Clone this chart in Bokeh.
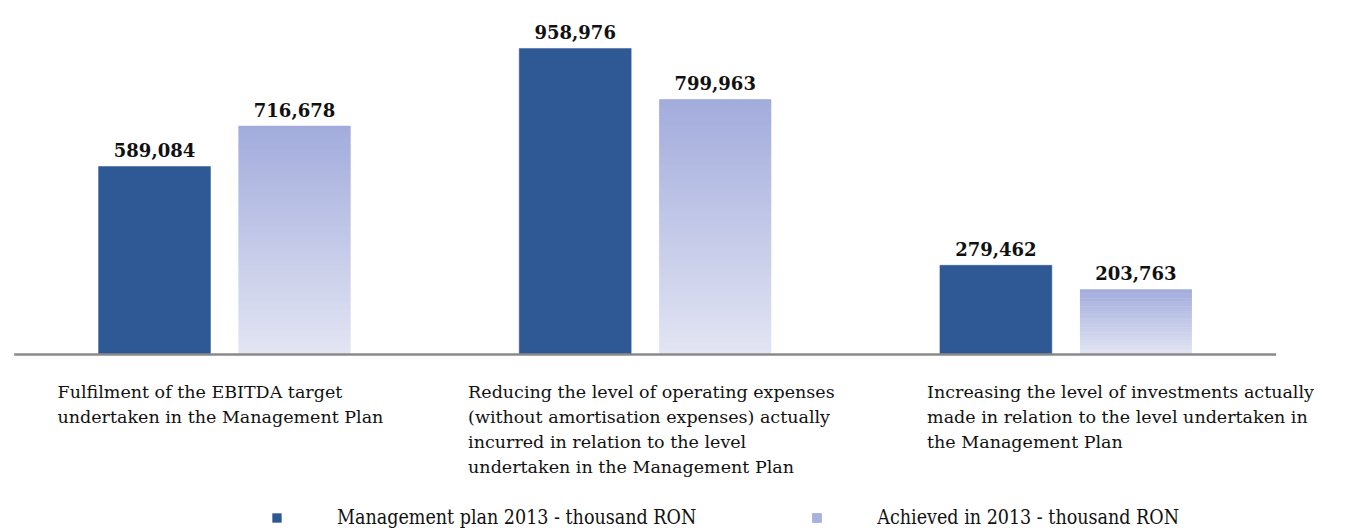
import numpy as np
from bokeh.plotting import figure
from bokeh.models import Range1d, Legend, LegendItem, ColumnDataSource
from bokeh.core.properties import value
from bokeh.embed import file_html
from bokeh.resources import INLINE

# ---------------- data ----------------
categories = [
    "Fulfilment of the EBITDA target undertaken in the Management Plan",
    "Reducing the level of operating expenses (without amortisation expenses) actually incurred in relation to the level undertaken in the Management Plan",
    "Increasing the level of investments actually made in relation to the level undertaken in the Management Plan",
]
label_lines = [
    ["Fulfilment of the EBITDA target", "undertaken in the Management Plan"],
    ["Reducing the level of operating expenses", "(without amortisation expenses) actually",
     "incurred in relation to the level", "undertaken in the Management Plan"],
    ["Increasing the level of investments actually", "made in relation to the level undertaken in",
     "the Management Plan"],
]
plan = [589084, 958976, 279462]
achieved = [716678, 799963, 203763]
series_names = ["Management plan 2013 - thousand RON", "Achieved in 2013 - thousand RON"]

# ---------------- style ----------------
DARK = "#2E5994"
GRAD_BOTTOM = np.array([0xE3, 0xE5, 0xF3])
GRAD_TOP = np.array([0xA2, 0xAC, 0xDC])
LIGHT = "#A9B2DF"
FONT = "DejaVu Serif"
BAR_W = 0.266
OFF = 0.1664
label_left = [-0.397, -0.421, -0.330]

p = figure(width=1346, height=532, output_backend="svg", toolbar_location=None,
           x_range=Range1d(-0.5325, 2.667), y_range=Range1d(-557900, 1109300),
           min_border=0, outline_line_color=None)
p.axis.visible = False
p.xgrid.visible = False
p.ygrid.visible = False
p.background_fill_color = "white"
p.border_fill_color = "white"

xs = np.arange(len(categories))

# dark bars
r_plan = p.vbar(x=xs - OFF, top=plan, width=BAR_W, bottom=0,
                fill_color=DARK, line_color=DARK, line_width=0.5)

# gradient bars built from overlapping strips
N = 90
L, R, B, T, C = [], [], [], [], []
for i, v in enumerate(achieved):
    for k in range(N):
        t = (k + 0.5) / N
        rgb = (GRAD_BOTTOM + (GRAD_TOP - GRAD_BOTTOM) * t).round().astype(int)
        L.append(i + OFF - BAR_W / 2)
        R.append(i + OFF + BAR_W / 2)
        B.append(v * k / N)
        T.append(min(v, v * (k + 1.8) / N))
        C.append("#%02x%02x%02x" % tuple(rgb))
src = ColumnDataSource(dict(left=L, right=R, bottom=B, top=T, color=C))
p.quad(left="left", right="right", bottom="bottom", top="top", source=src,
       fill_color="color", line_color=None)

# legend proxy for achieved (placed far outside the visible ranges)
r_ach = p.vbar(x=[-50], bottom=[-9e7], top=[-8e7], width=BAR_W,
               fill_color=LIGHT, line_color=LIGHT)

# baseline axis line
p.segment(x0=[-0.5], x1=[2.5], y0=[0], y1=[0], line_color="#8A8A8A", line_width=2.5)

# value labels
fmt = lambda v: f"{v:,}"
for offs, vals in ((-OFF, plan), (OFF, achieved)):
    p.text(x=list(xs + offs), y=vals, text=[fmt(v) for v in vals], y_offset=-16,
           text_align="center", text_baseline="alphabetic", text_font=value(FONT),
           text_font_style="bold", text_font_size="18px", text_color="#111111")

# category labels (multi-line)
for i, lines in enumerate(label_lines):
    for k, line in enumerate(lines):
        p.text(x=[i + label_left[i]], y=[0], text=[line], y_offset=38 + 25 * k,
               text_align="left", text_baseline="alphabetic", text_font=value(FONT),
               text_font_size="17.5px", text_color="#111111")

legend = Legend(items=[LegendItem(label=series_names[0], renderers=[r_plan]),
                       LegendItem(label=series_names[1], renderers=[r_ach])],
                orientation="horizontal", location=(271, 3),
                glyph_width=11, glyph_height=11, label_standoff=55, spacing=115,
                padding=0, margin=0, border_line_color=None, background_fill_alpha=0,
                label_text_font="DejaVu Serif Condensed", label_text_font_size="19.5px",
                label_text_color="#111111", label_height=18)
p.add_layout(legend, "center")

open("out.html", "w").write(file_html(p, INLINE))
